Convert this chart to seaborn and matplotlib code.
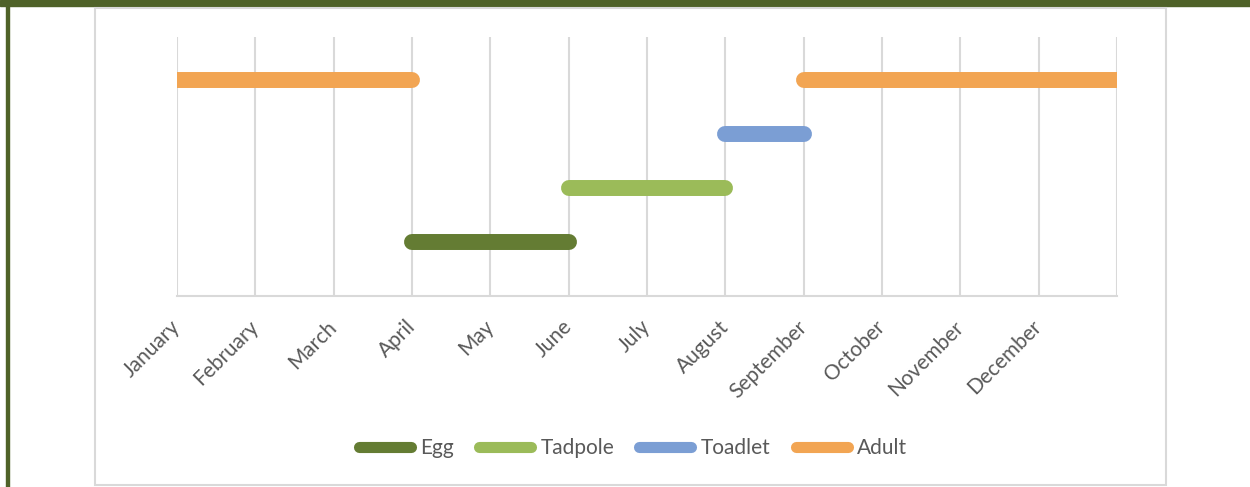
import pandas as pd
import matplotlib
matplotlib.use("Agg")
import matplotlib.pyplot as plt
import seaborn as sns
from matplotlib.lines import Line2D
from matplotlib.patches import Rectangle

# 数据
months = ["January", "February", "March", "April", "May", "June",
          "July", "August", "September", "October", "November", "December"]
stages = ["Egg", "Tadpole", "Toadlet", "Adult"]
levels = [1, 2, 3, 4]
# 每个阶段的时间段 (起始月, 结束月)，0 = January
seg_stage = ["Egg", "Tadpole", "Toadlet", "Adult", "Adult"]
seg_start = [3, 5, 7, 0, 8]
seg_end = [5, 7, 8, 3, 12]

colors = {"Egg": "#647C33", "Tadpole": "#9BBB59",
          "Toadlet": "#7B9ED4", "Adult": "#F2A553"}
text_color = "#595959"
grid_color = "#D9D9D9"

# 长格式数据表
rows = []
for i, (st, a, b) in enumerate(zip(seg_stage, seg_start, seg_end)):
    lv = levels[stages.index(st)]
    rows.append({"stage": st, "seg": i, "month": a, "level": lv})
    rows.append({"stage": st, "seg": i, "month": b, "level": lv})
df = pd.DataFrame(rows)

sns.set_theme(style="white")
plt.rcParams["font.family"] = ["Lato", "DejaVu Sans"]

fig = plt.figure(figsize=(12.5, 4.87), dpi=100)

# 外框
fig.patches.append(Rectangle((0, 1 - 5.5 / 487), 1, 5.5 / 487, transform=fig.transFigure,
                             color="#4F6228", zorder=0))
fig.patches.append(Rectangle((6 / 1250, 0), 2.5 / 1250, 1, transform=fig.transFigure,
                             color="#4F6228", zorder=0))
fig.patches.append(Rectangle((95 / 1250, 2 / 487), (1166 - 95) / 1250, (479 - 2) / 487,
                             transform=fig.transFigure, fill=False,
                             edgecolor=grid_color, linewidth=1.5, zorder=0))

ax = fig.add_axes([177 / 1250, 191 / 487, 940 / 1250, 259 / 487])

for m in range(13):
    ax.axvline(m, color=grid_color, linewidth=1.5, zorder=0)

sns.lineplot(data=df, x="month", y="level", hue="stage", units="seg",
             estimator=None, palette=colors, hue_order=stages,
             linewidth=11.5, solid_capstyle="round", legend=False, ax=ax)

ax.set_xlim(0, 12)
ax.set_ylim(0, 4.8)
ax.set_yticks([])
ax.set_xticks(range(12))
ax.set_xticklabels(months, rotation=45, ha="right", va="center",
                   rotation_mode="anchor", color=text_color, fontsize=15)
ax.tick_params(axis="x", length=0, pad=20)
ax.set_xlabel("")
ax.set_ylabel("")
for s in ["top", "left", "right"]:
    ax.spines[s].set_visible(False)
ax.spines["bottom"].set_color(grid_color)
ax.spines["bottom"].set_linewidth(1.5)
ax.patch.set_alpha(0)

handles = [Line2D([0], [0], color=colors[s], linewidth=8, solid_capstyle="round")
           for s in stages]
fig.legend(handles, stages, loc="center", bbox_to_anchor=(633 / 1250, 39 / 487),
           ncol=4, frameon=False, handlelength=2.5, handletextpad=0.45,
           columnspacing=1.2, fontsize=15, labelcolor=text_color)

fig.savefig("out.png", dpi=100)
